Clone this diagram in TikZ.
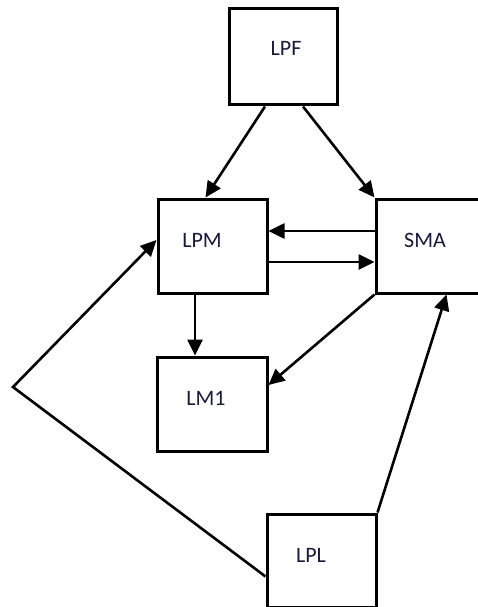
\documentclass[tikz,border=0pt]{standalone}
\usepackage{fontspec}
\setmainfont{Carlito}
\usepackage{xcolor}
\usepackage{tikz}
\usetikzlibrary{positioning, arrows.meta}

\definecolor{labelblue}{RGB}{24,26,62}

\begin{document}
\begin{tikzpicture}[
    x=1pt, y=-1pt,
    box/.style={rectangle, draw=black, line width=3pt, inner sep=0pt, fill=white},
    tag/.style={font=\fontsize{22}{26}\selectfont, text=labelblue, text height=14.2pt, text depth=0pt, inner sep=0pt},
    arrow/.style={-{Triangle[length=16pt, width=15pt]}, line width=2.6pt, color=black}
]

\useasboundingbox (0,0) rectangle (477,607);

% Top: source
\node[box, minimum width=108pt, minimum height=96pt,
      label={[tag, xshift=3pt, yshift=9pt]center:LPF}] (lpf) at (283,57) {};

% Middle row
\node[box, minimum width=109pt, minimum height=94pt,
      label={[tag, xshift=-10.5pt, yshift=6pt]center:LPM}] (lpm) at (212.5,246) {};
\node[box, minimum width=114pt, minimum height=94pt,
      label={[tag, xshift=-8pt, yshift=6pt]center:SMA}] (sma) at (433,246) {};

% Lower boxes
\node[box, minimum width=110pt, minimum height=94pt,
      label={[tag, xshift=-6pt, yshift=6pt]center:LM1}] (lm1) at (212,404) {};
\node[box, minimum width=109pt, minimum height=93pt,
      label={[tag, xshift=-10.5pt, yshift=5.5pt]center:LPL}] (lpl) at (321.5,560.5) {};

\coordinate (bend) at (13,387);

% Arrows
\draw[arrow] ([xshift=-18pt]lpf.south) -- ([xshift=-7pt]lpm.north);
\draw[arrow] ([xshift=20pt]lpf.south) -- (sma.north west);
\draw[arrow] ([yshift=15pt]sma.west) -- ([yshift=15pt]sma.west -| lpm.east);
\draw[arrow] ([yshift=-16pt]lpm.east) -- ([yshift=-16pt]lpm.east -| sma.west);
\draw[arrow] ([xshift=-17.5pt]lpm.south) -- ([xshift=-17.5pt]lpm.south |- lm1.north);
\draw[arrow] (sma.south west) -- ([yshift=19pt]lm1.east);
\draw[arrow] (lpl.north east) -- ([xshift=72pt]sma.south west);
\draw[arrow] ([yshift=-16pt]lpl.west) -- (bend) -- ([yshift=6pt]lpm.west);

\end{tikzpicture}
\end{document}
